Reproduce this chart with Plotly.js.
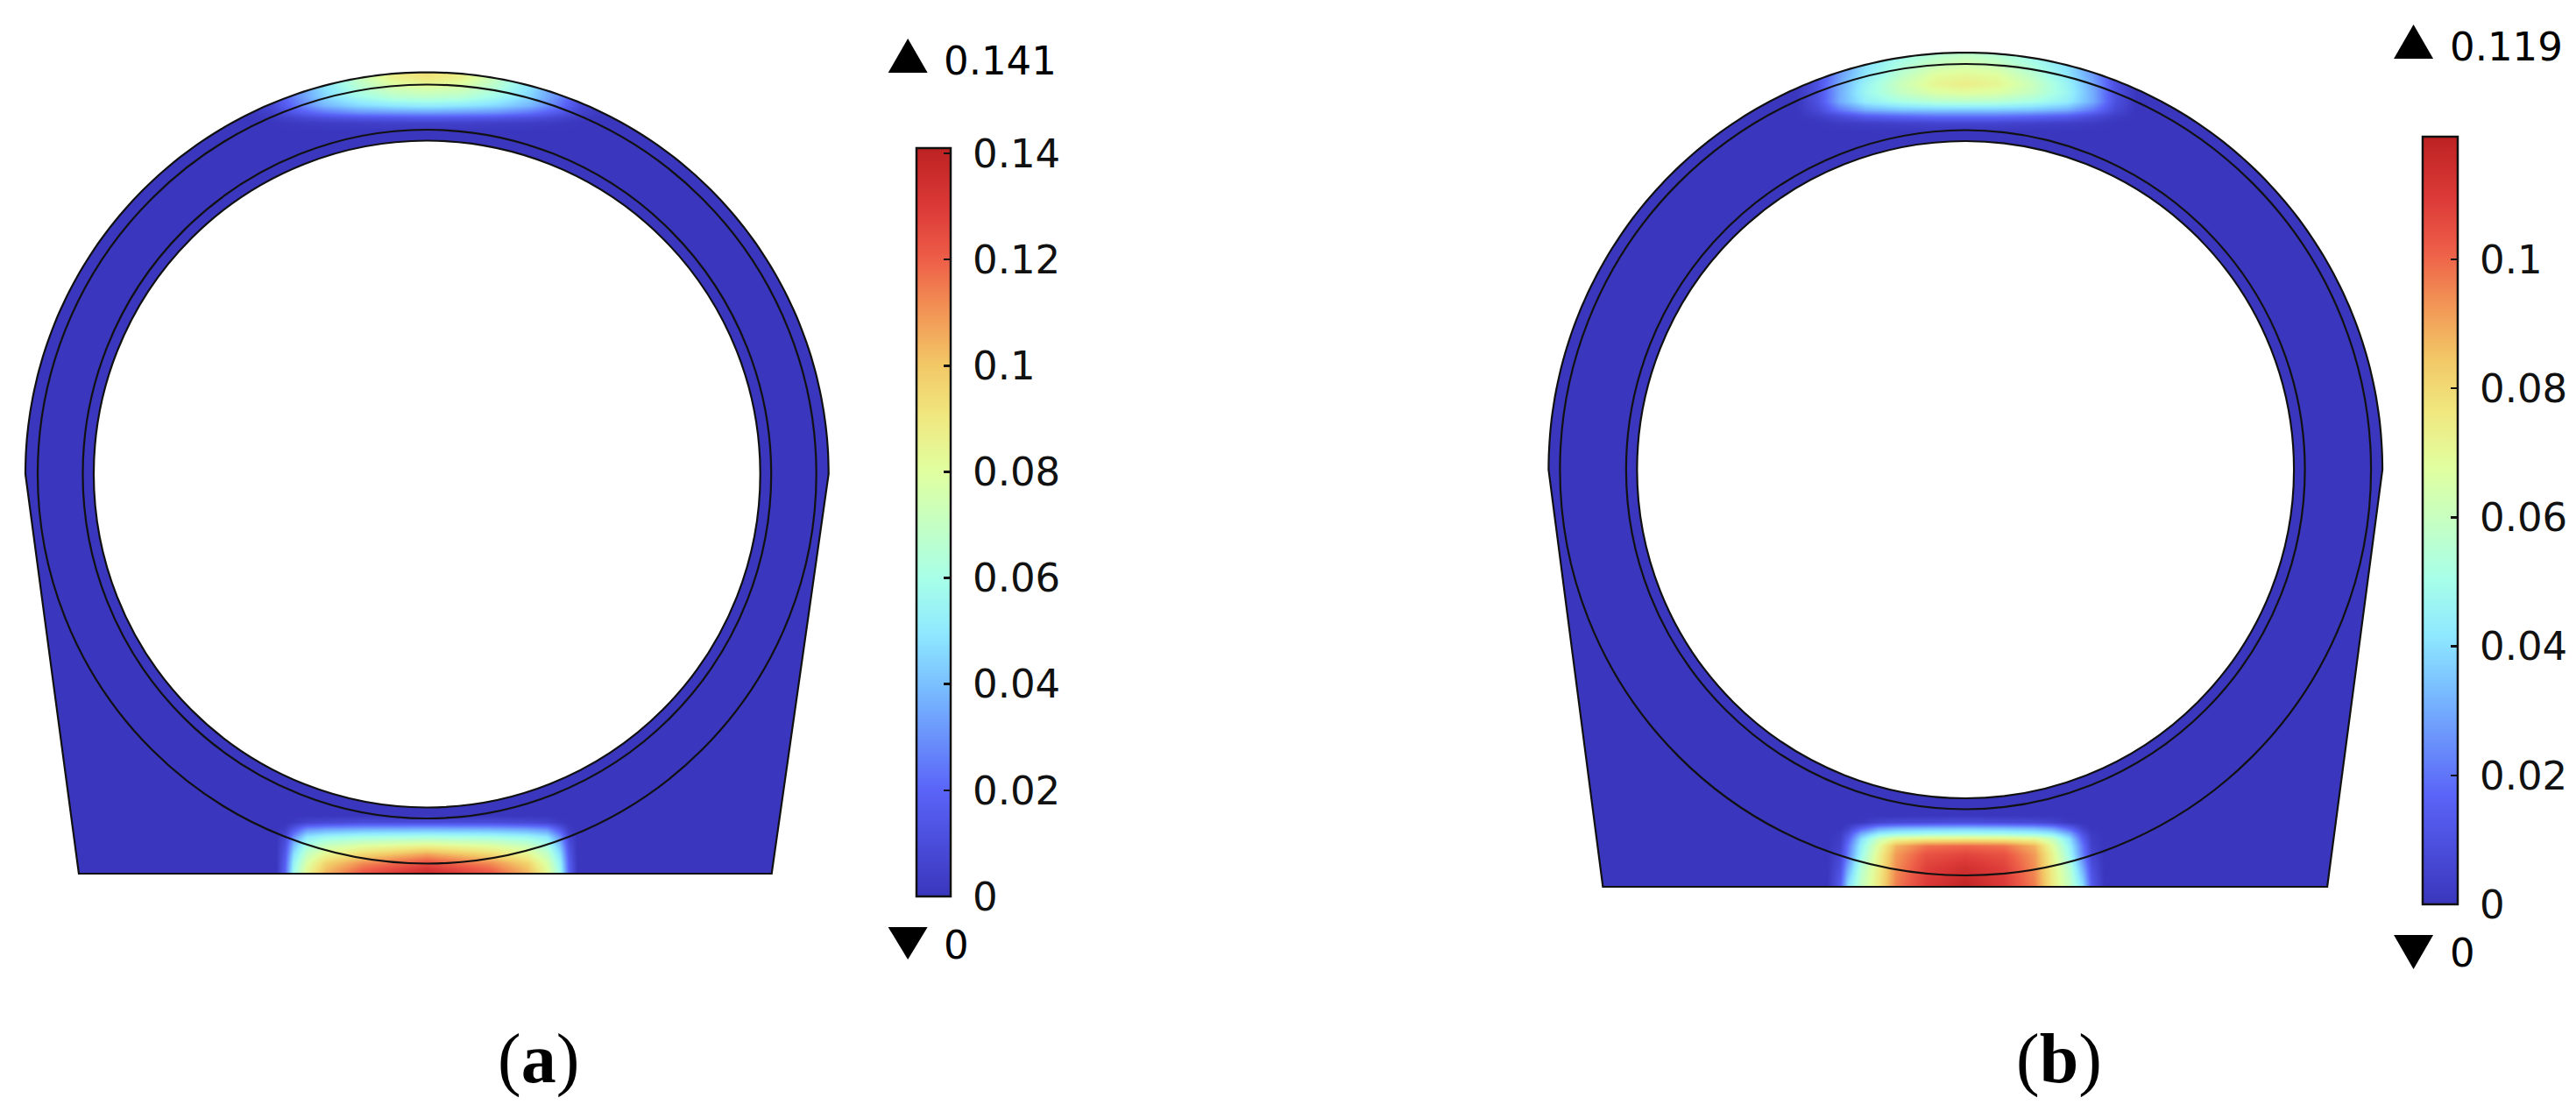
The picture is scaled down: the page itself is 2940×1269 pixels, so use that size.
<!DOCTYPE html>
<html lang="en">
<head>
    <meta charset="UTF-8">
    <title>Contour plots (a) and (b)</title>
    <script src="https://cdn.plot.ly/plotly-3.0.1.min.js"></script>
    <style>
        body { margin: 0; background: #ffffff; }
        #plot { width: 2940px; height: 1269px; }
    </style>
</head>
<body>
    <div id="plot"></div>

    <script>
        // Field values, x/y in picture pixels
        const aTopX = [280, 310, 340, 370, 410, 450, 487, 525, 565, 605, 635, 665, 695];
        const aTopY = [80, 90, 100, 110, 120, 128, 134, 140, 150];
        const aTopZ = [
            [0, .01, .03, .05, .075, .09, .095, .09, .075, .05, .03, .01, 0],
            [0, .01, .03, .05, .07, .085, .09, .085, .07, .05, .03, .01, 0],
            [0, .01, .03, .048, .065, .075, .078, .075, .065, .048, .03, .01, 0],
            [0, .01, .03, .045, .058, .066, .068, .066, .058, .045, .03, .01, 0],
            [0, .008, .025, .038, .046, .05, .052, .05, .046, .038, .025, .008, 0],
            [0, .005, .016, .024, .03, .032, .033, .032, .03, .024, .016, .005, 0],
            [0, .002, .007, .011, .014, .015, .016, .015, .014, .011, .007, .002, 0],
            [0, 0, .002, .003, .004, .005, .005, .005, .004, .003, .002, 0, 0],
            [0, 0, 0, 0, 0, 0, 0, 0, 0, 0, 0, 0, 0]
        ];

        const aBotX = [315, 325, 335, 350, 372, 415, 487, 559, 602, 624, 639, 649, 659];
        const aBotY = [930, 938, 946, 955, 965, 975, 985, 1000];
        const aBotZ = [
            [0, 0, 0, 0, 0, 0, 0, 0, 0, 0, 0, 0, 0],
            [0, 0, .002, .006, .008, .01, .01, .01, .008, .006, .002, 0, 0],
            [0, .003, .015, .03, .034, .037, .038, .037, .034, .03, .015, .003, 0],
            [0, .008, .03, .05, .056, .06, .062, .06, .056, .05, .03, .008, 0],
            [0, .012, .04, .062, .072, .08, .086, .08, .072, .062, .04, .012, 0],
            [0, .015, .048, .07, .085, .096, .108, .096, .085, .07, .048, .015, 0],
            [0, .018, .054, .078, .097, .112, .125, .112, .097, .078, .054, .018, 0],
            [0, .02, .06, .085, .107, .127, .141, .127, .107, .085, .06, .02, 0]
        ];

        const bTopX = [2050, 2075, 2100, 2130, 2170, 2210, 2244, 2280, 2320, 2360, 2390, 2415, 2440];
        const bTopY = [55, 70, 85, 95, 105, 115, 125, 132, 140, 150];
        const bTopZ = [
            [0, .01, .025, .038, .046, .052, .055, .052, .046, .038, .025, .01, 0],
            [0, .01, .025, .04, .051, .059, .062, .059, .051, .04, .025, .01, 0],
            [0, .01, .027, .042, .057, .068, .07, .068, .057, .042, .027, .01, 0],
            [0, .01, .029, .046, .061, .071, .074, .071, .061, .046, .029, .01, 0],
            [0, .01, .03, .047, .059, .066, .068, .066, .059, .047, .03, .01, 0],
            [0, .01, .03, .044, .051, .055, .056, .055, .051, .044, .03, .01, 0],
            [0, .007, .02, .03, .034, .035, .035, .035, .034, .03, .02, .007, 0],
            [0, .003, .008, .014, .017, .019, .019, .019, .017, .014, .008, .003, 0],
            [0, 0, .002, .003, .004, .005, .005, .005, .004, .003, .002, 0, 0],
            [0, 0, 0, 0, 0, 0, 0, 0, 0, 0, 0, 0, 0]
        ];

        const bBotX = [2085, 2100, 2110, 2125, 2145, 2165, 2200, 2244, 2288, 2323, 2343, 2363, 2378, 2388, 2403];
        const bBotY = [930, 938, 945, 951, 957, 965, 975, 990, 1015];
        const bBotZ = [
            [0, 0, 0, 0, 0, 0, 0, 0, 0, 0, 0, 0, 0, 0, 0],
            [0, 0, 0, .001, .005, .007, .008, .009, .008, .007, .005, .001, 0, 0, 0],
            [0, 0, .004, .016, .028, .032, .034, .035, .034, .032, .028, .016, .004, 0, 0],
            [0, .002, .01, .03, .043, .047, .049, .05, .049, .047, .043, .03, .01, .002, 0],
            [0, .003, .015, .04, .06, .07, .074, .075, .074, .07, .06, .04, .015, .003, 0],
            [0, .004, .02, .045, .068, .088, .098, .1, .098, .088, .068, .045, .02, .004, 0],
            [0, .006, .022, .048, .072, .092, .104, .107, .104, .092, .072, .048, .022, .006, 0],
            [0, .01, .03, .055, .074, .094, .108, .113, .108, .094, .074, .055, .03, .01, 0],
            [0, .015, .042, .06, .076, .097, .11, .119, .11, .097, .076, .06, .042, .015, 0]
        ];

        const aTicks = [0, 0.02, 0.04, 0.06, 0.08, 0.1, 0.12, 0.14];
        const aTickLabels = ['0', '0.02', '0.04', '0.06', '0.08', '0.1', '0.12', '0.14'];
        const bTicks = [0, 0.02, 0.04, 0.06, 0.08, 0.1];
        const bTickLabels = ['0', '0.02', '0.04', '0.06', '0.08', '0.1'];
        const aMax = 0.141;
        const bMax = 0.119;

        const rainbow = [
            [0, '#3a36bd'], [0.142, '#5a64f8'], [0.284, '#7ac0ff'], [0.35, '#8ee8ff'],
            [0.425, '#a8ffe8'], [0.567, '#e0ffa0'], [0.64, '#f0e880'], [0.71, '#f2c866'],
            [0.78, '#f29656'], [0.85, '#ee5f48'], [0.92, '#dc3a38'], [1, '#bd2222']
        ];

        const LINE = '#111111';
        const BASE = '#3a36bd';

        // geometry of the two sections
        const panelA = {
            cx: 487.5, cy: 541, outerR: 458.5, baseY: 997, baseL: 90, baseR: 881,
            radii: [444.5, 393, 380.5], clip: [0, 1000],
            bar: { left: 1046, right: 1085, top: 169, bottom: 1023 }, max: aMax, ticks: aTicks,
            triX: 1036.5, textX: 1075, upY: [44, 83], downY: [1058, 1095]
        };
        const panelB = {
            cx: 2244, cy: 536, outerR: 476, baseY: 1012, baseL: 1830, baseR: 2657,
            radii: [463, 387.5, 375], clip: [1500, 2740],
            bar: { left: 2765, right: 2805, top: 156, bottom: 1032 }, max: bMax, ticks: bTicks,
            triX: 2755.5, textX: 2795, upY: [28, 67], downY: [1067, 1106]
        };

        function outlinePath(p) {
            let d = '';
            for (let i = 0; i <= 180; i++) {
                const t = Math.PI + i * Math.PI / 180;
                const x = p.cx + p.outerR * Math.cos(t);
                const y = p.cy + p.outerR * Math.sin(t);
                d += (i === 0 ? 'M' : 'L') + x.toFixed(1) + ',' + y.toFixed(1);
            }
            return d + 'L' + p.baseR + ',' + p.baseY + 'L' + p.baseL + ',' + p.baseY + 'Z';
        }

        function panelShapes(p) {
            const out = [];
            const outline = outlinePath(p);
            // blue body under the patches
            out.push({ type: 'path', layer: 'below', path: outline, fillcolor: BASE, line: { width: 0 } });
            // white cover hides what the patches paint outside the body
            const cover = 'M' + p.clip[0] + ',0H' + p.clip[1] + 'V1140H' + p.clip[0] + 'Z';
            out.push({ type: 'path', path: cover + outline, fillcolor: '#ffffff', fillrule: 'evenodd', line: { width: 0 } });
            const inner = p.radii[p.radii.length - 1];
            out.push({
                type: 'circle', x0: p.cx - inner, x1: p.cx + inner, y0: p.cy - inner, y1: p.cy + inner,
                fillcolor: '#ffffff', line: { width: 0 }
            });
            out.push({ type: 'path', path: outline, line: { color: LINE, width: 2.2 } });
            p.radii.forEach(function (r) {
                out.push({
                    type: 'circle', x0: p.cx - r, x1: p.cx + r, y0: p.cy - r, y1: p.cy + r,
                    line: { color: LINE, width: 2.2 }
                });
            });
            // colorbar only has ticks on one side, the left ones are added here
            p.ticks.forEach(function (v) {
                if (v === 0) return;
                const y = p.bar.bottom - v / p.max * (p.bar.bottom - p.bar.top);
                out.push({ type: 'line', x0: p.bar.left, x1: p.bar.left + 9, y0: y, y1: y, line: { color: LINE, width: 2.5 } });
            });
            // max and min markers
            out.push({
                type: 'path', fillcolor: '#000000', line: { width: 0 },
                path: 'M' + (p.triX - 22.5) + ',' + p.upY[1] + 'H' + (p.triX + 22.5) + 'L' + p.triX + ',' + p.upY[0] + 'Z'
            });
            out.push({
                type: 'path', fillcolor: '#000000', line: { width: 0 },
                path: 'M' + (p.triX - 22.5) + ',' + p.downY[0] + 'H' + (p.triX + 22.5) + 'L' + p.triX + ',' + p.downY[1] + 'Z'
            });
            return out;
        }

        function colorAxis(p, labels) {
            return {
                cmin: 0, cmax: p.max, colorscale: rainbow,
                colorbar: {
                    x: p.bar.left / 2940, xanchor: 'left', xpad: 0,
                    y: 1 - p.bar.bottom / 1269, yanchor: 'bottom', ypad: 0,
                    lenmode: 'pixels', len: p.bar.bottom - p.bar.top,
                    thicknessmode: 'pixels', thickness: p.bar.right - p.bar.left,
                    outlinecolor: LINE, outlinewidth: 2.5,
                    // no standoff setting on colorbars, a leading nbsp pushes the labels out
                    tickmode: 'array', tickvals: p.ticks,
                    ticktext: labels.map(function (s) { return '\u00a0' + s; }),
                    ticks: 'inside', ticklen: 9, tickwidth: 2.5, tickcolor: LINE,
                    tickfont: { family: 'DejaVu Sans', size: 45, color: '#111111' }
                }
            };
        }

        function patch(x, y, z, axisName) {
            return { type: 'heatmap', x: x, y: y, z: z, zsmooth: 'best', coloraxis: axisName, hoverinfo: 'skip' };
        }

        const traces = [
            patch(aTopX, aTopY, aTopZ, 'coloraxis'),
            patch(aBotX, aBotY, aBotZ, 'coloraxis'),
            patch(bTopX, bTopY, bTopZ, 'coloraxis2'),
            patch(bBotX, bBotY, bBotZ, 'coloraxis2')
        ];

        function note(text, x, y, size, family, anchor) {
            return {
                text: text, x: x, y: y, xref: 'x', yref: 'y', showarrow: false,
                xanchor: anchor, yanchor: 'middle',
                font: { family: family, size: size, color: '#000000' }
            };
        }

        const layout = {
            width: 2940,
            height: 1269,
            margin: { l: 0, r: 0, t: 0, b: 0 },
            paper_bgcolor: '#ffffff',
            plot_bgcolor: '#ffffff',
            showlegend: false,
            xaxis: { range: [0, 2940], visible: false, fixedrange: true },
            yaxis: { range: [1269, 0], visible: false, fixedrange: true },
            coloraxis: colorAxis(panelA, aTickLabels),
            coloraxis2: colorAxis(panelB, bTickLabels),
            shapes: panelShapes(panelA).concat(panelShapes(panelB)),
            annotations: [
                note('0.141', panelA.textX, 69, 45, 'DejaVu Sans', 'left'),
                note('0', panelA.textX, 1078, 45, 'DejaVu Sans', 'left'),
                note('0.119', panelB.textX, 53, 45, 'DejaVu Sans', 'left'),
                note('0', panelB.textX, 1087, 45, 'DejaVu Sans', 'left'),
                note('(<b>a</b>)', 615, 1208, 80, 'Liberation Serif', 'center'),
                note('(<b>b</b>)', 2351, 1208, 80, 'Liberation Serif', 'center')
            ]
        };

        Plotly.newPlot('plot', traces, layout, { displayModeBar: false, staticPlot: true });
    </script>
</body>
</html>
